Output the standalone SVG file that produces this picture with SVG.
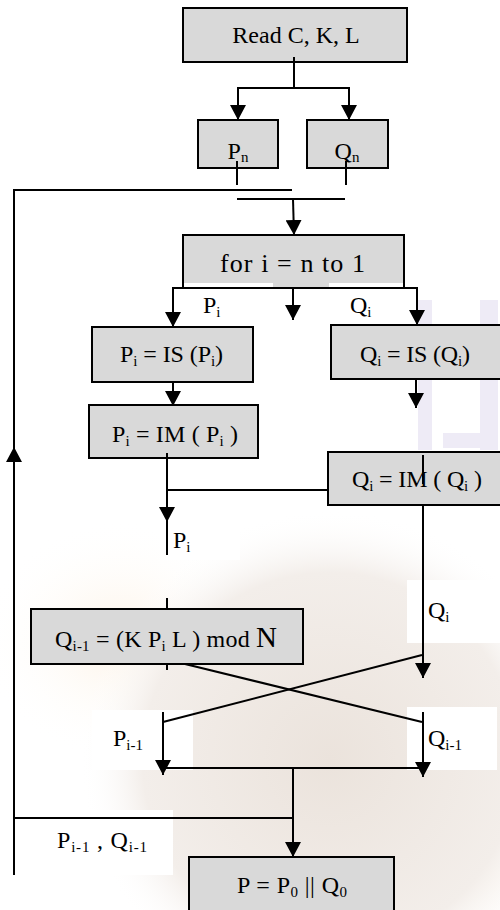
<svg xmlns="http://www.w3.org/2000/svg" width="500" height="910" viewBox="0 0 500 910">
<defs>
  <marker id="ah" markerUnits="userSpaceOnUse" markerWidth="16" markerHeight="16" viewBox="0 0 16 16" refX="15" refY="8" orient="auto">
    <path d="M0,0 L15,8 L0,16 z" fill="#000"/>
  </marker>
  <radialGradient id="globe" cx="330" cy="760" r="250" gradientUnits="userSpaceOnUse">
    <stop offset="0" stop-color="#ebe3dc"/>
    <stop offset="0.75" stop-color="#f3eeea"/>
    <stop offset="1" stop-color="#ffffff" stop-opacity="0"/>
  </radialGradient>
  <radialGradient id="warm" cx="0.5" cy="0.5" r="0.5">
    <stop offset="0" stop-color="#fdf3e6"/>
    <stop offset="1" stop-color="#ffffff" stop-opacity="0"/>
  </radialGradient>
</defs>
<style>
  .box{fill:#d9d9d9;stroke:#000;stroke-width:2}
  .ln{stroke:#000;stroke-width:2;fill:none}
  .ar{marker-end:url(#ah)}
  text{font-family:"Liberation Serif","Times New Roman",serif;font-size:24px;fill:#000}
  .s{font-size:15px}
  .big{font-size:29px}
  .wm{fill:#eeebf6}
  .wp{fill:#ffffff}
</style>

<g id="watermark">
  <rect x="0" y="0" width="500" height="910" fill="#ffffff"/>
  <ellipse cx="120" cy="640" rx="140" ry="120" fill="url(#warm)"/>
  <ellipse cx="460" cy="860" rx="120" ry="90" fill="url(#warm)"/>
  <circle cx="330" cy="760" r="250" fill="url(#globe)"/>
  <rect class="wm" x="418" y="300" width="14" height="150"/>
  <rect class="wm" x="480" y="300" width="18" height="150"/>
  <rect class="wm" x="443" y="433" width="40" height="15"/>
  <rect class="wp" x="444" y="505" width="56" height="10"/>
  <rect class="wp" x="166" y="505" width="74" height="55"/>
  <rect class="wp" x="407" y="580" width="93" height="63"/>
  <rect class="wp" x="92" y="710" width="101" height="60"/>
  <rect class="wp" x="407" y="707" width="90" height="63"/>
  <rect class="wp" x="15" y="810" width="158" height="65"/>
</g>

<g id="node-read">
  <rect class="box" x="183" y="8" width="224" height="54"/>
  <text x="296" y="43" text-anchor="middle">Read C, K, L</text>
</g>
<g id="node-pn">
  <rect class="box" x="198" y="120" width="80" height="48"/>
  <text x="238" y="159" text-anchor="middle">P<tspan class="s" dy="3">n</tspan></text>
</g>
<g id="node-qn">
  <rect class="box" x="307" y="120" width="81" height="48"/>
  <text x="347" y="159" text-anchor="middle">Q<tspan class="s" dy="3">n</tspan></text>
</g>
<g id="node-for">
  <rect class="box" x="183" y="235" width="221" height="53"/>
  <rect class="wp" x="184" y="283" width="89" height="5"/>
  <rect class="wp" x="329" y="283" width="74" height="5"/>
  <text x="220" y="272" textLength="145" lengthAdjust="spacing" style="font-size:26px">for i = n to 1</text>
</g>
<g id="node-pis">
  <rect class="box" x="92" y="327" width="161" height="55"/>
  <text x="120" y="362" textLength="103" lengthAdjust="spacing">P<tspan class="s" dy="4">i</tspan><tspan dy="-4"> = IS (P</tspan><tspan class="s" dy="4">i</tspan><tspan dy="-4">)</tspan></text>
</g>
<g id="node-qis">
  <rect class="box" x="331" y="325" width="180" height="54"/>
  <text x="360" y="362" textLength="110" lengthAdjust="spacing">Q<tspan class="s" dy="4">i</tspan><tspan dy="-4"> = IS (Q</tspan><tspan class="s" dy="4">i</tspan><tspan dy="-4">)</tspan></text>
</g>
<g id="node-pim">
  <rect class="box" x="89" y="405" width="169" height="53"/>
  <text x="112" y="442" textLength="126" lengthAdjust="spacing">P<tspan class="s" dy="4">i</tspan><tspan dy="-4"> = IM ( P</tspan><tspan class="s" dy="4">i</tspan><tspan dy="-4"> )</tspan></text>
</g>
<g id="node-qim">
  <rect class="box" x="328" y="452" width="183" height="53"/>
  <text x="352" y="487" textLength="130" lengthAdjust="spacing">Q<tspan class="s" dy="4">i</tspan><tspan dy="-4"> = IM ( Q</tspan><tspan class="s" dy="4">i</tspan><tspan dy="-4"> )</tspan></text>
  <line class="ln" x1="423" y1="455" x2="423" y2="484"/>
</g>
<g id="node-qmod">
  <rect class="box" x="31" y="609" width="272" height="55"/>
  <text x="55" y="647" textLength="222" lengthAdjust="spacing">Q<tspan class="s" dy="4">i-1</tspan><tspan dy="-4"> = (K P</tspan><tspan class="s" dy="4">i</tspan><tspan dy="-4"> L ) mod </tspan><tspan class="big">N</tspan></text>
</g>
<g id="node-result">
  <rect class="box" x="189" y="857" width="205" height="60"/>
  <text x="237" y="893" textLength="110" lengthAdjust="spacing">P = P<tspan class="s" dy="4">0</tspan><tspan dy="-4"> || Q</tspan><tspan class="s" dy="4">0</tspan></text>
</g>

<g id="connectors">
  <line class="ln" x1="294" y1="57" x2="294" y2="88"/>
  <line class="ln" x1="237" y1="88" x2="350" y2="88"/>
  <line class="ln ar" x1="238" y1="88" x2="238" y2="120"/>
  <line class="ln ar" x1="349" y1="88" x2="349" y2="120"/>
  <line class="ln" x1="237" y1="161" x2="237" y2="185"/>
  <line class="ln" x1="346" y1="161" x2="346" y2="185"/>
  <line class="ln" x1="13" y1="190" x2="292" y2="190"/>
  <line class="ln" x1="237" y1="199" x2="345" y2="199"/>
  <line class="ln ar" x1="293" y1="199" x2="294" y2="235"/>
  <line class="ln" x1="14" y1="189" x2="14" y2="447"/>
  <line class="ln ar" x1="14" y1="875" x2="14" y2="447"/>
  <line class="ln" x1="172" y1="288" x2="418" y2="288"/>
  <line class="ln ar" x1="173" y1="288" x2="173" y2="327"/>
  <line class="ln ar" x1="417" y1="288" x2="417" y2="325"/>
  <line class="ln ar" x1="293" y1="288" x2="293" y2="320"/>
  <line class="ln ar" x1="173" y1="382" x2="173" y2="406"/>
  <line class="ln ar" x1="416" y1="379" x2="416" y2="408"/>
  <line class="ln ar" x1="167" y1="453" x2="167" y2="522"/>
  <line class="ln" x1="167" y1="520" x2="167" y2="555"/>
  <line class="ln" x1="167" y1="490" x2="328" y2="490"/>
  <line class="ln ar" x1="423" y1="505" x2="423" y2="678"/>
  <line class="ln" x1="167" y1="598" x2="167" y2="609"/>
  <line class="ln" x1="167" y1="664" x2="167" y2="670"/>
  <line class="ln" x1="422" y1="655" x2="163" y2="722"/>
  <line class="ln" x1="185" y1="664" x2="422" y2="722"/>
  <line class="ln ar" x1="163" y1="712" x2="163" y2="775"/>
  <line class="ln ar" x1="423" y1="712" x2="423" y2="777"/>
  <line class="ln" x1="163" y1="768" x2="423" y2="768"/>
  <line class="ln ar" x1="293" y1="768" x2="293" y2="857"/>
  <line class="ln" x1="13" y1="818" x2="294" y2="818"/>
</g>

<g id="labels">
  <text x="203" y="313">P<tspan class="s" dy="4">i</tspan></text>
  <text x="350" y="313">Q<tspan class="s" dy="4">i</tspan></text>
  <text x="173" y="548">P<tspan class="s" dy="4">i</tspan></text>
  <text x="428" y="618">Q<tspan class="s" dy="4">i</tspan></text>
  <text x="113" y="746">P<tspan class="s" dy="4">i-1</tspan></text>
  <text x="428" y="746">Q<tspan class="s" dy="4">i-1</tspan></text>
  <text x="57" y="848" textLength="90" lengthAdjust="spacing">P<tspan class="s" dy="4">i-1</tspan><tspan dy="-4"> , Q</tspan><tspan class="s" dy="4">i-1</tspan></text>
</g>
</svg>
